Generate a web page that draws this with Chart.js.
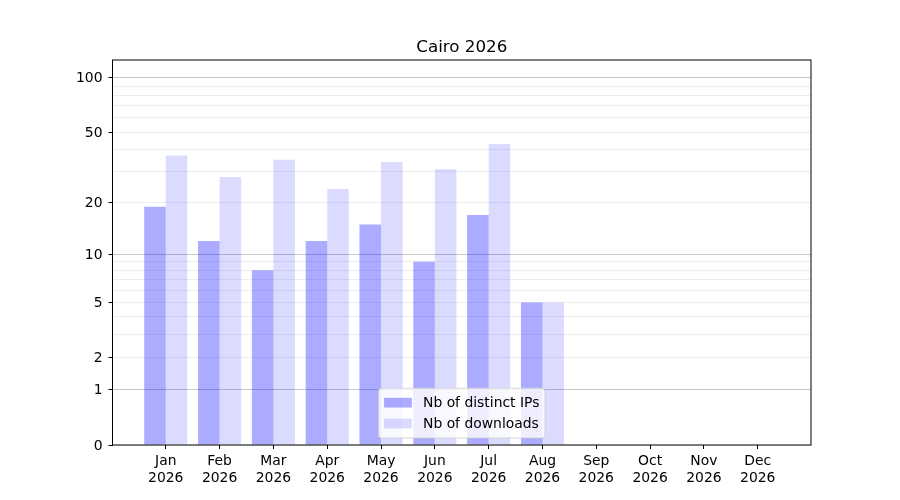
<!DOCTYPE html>
<html>
<head>
<meta charset="utf-8">
<script src="https://cdn.jsdelivr.net/npm/chart.js@4/dist/chart.umd.min.js"></script>
<style>
  html, body { margin: 0; padding: 0; background: #fff; }
  #wrap { width: 900px; height: 500px; }
</style>
</head>
<body>
<div id="wrap"><canvas id="chart"></canvas></div>
<script>
'use strict';

// data
const months = ['Jan', 'Feb', 'Mar', 'Apr', 'May', 'Jun', 'Jul', 'Aug', 'Sep', 'Oct', 'Nov', 'Dec'];
const year = '2026';
const distinctIPs = [19, 12, 8, 12, 15, 9, 17, 5, 0, 0, 0, 0];
const downloads = [37, 28, 35, 24, 34, 31, 43, 5, 0, 0, 0, 0];
const seriesNames = ['Nb of distinct IPs', 'Nb of downloads'];
const yTickValues = [0, 1, 2, 3, 4, 5, 6, 7, 8, 9, 10, 20, 30, 40, 50, 60, 70, 80, 90, 100];
const yTickLabels = [0, 1, 2, 5, 10, 20, 50, 100];
const yMajorGrid = [1, 10, 100];

const FONT = 'DejaVu Sans';

// y axis spaced like log10(1 + v)
class Log1pScale extends Chart.LinearScale {
  configure() {
    super.configure();
    this._lmin = Math.log10(1 + this.min);
    this._lrange = Math.log10(1 + this.max) - this._lmin;
  }
  buildTicks() {
    return yTickValues.map(v => ({ value: v }));
  }
  getPixelForValue(v) {
    return this.getPixelForDecimal((Math.log10(1 + v) - this._lmin) / this._lrange);
  }
  getValueForPixel(p) {
    return Math.pow(10, this._lmin + this.getDecimalForPixel(p) * this._lrange) - 1;
  }
}
Log1pScale.id = 'log1p';
Log1pScale.defaults = Chart.LinearScale.defaults;
Chart.register(Log1pScale);

// box round the plot + title centred over it
const framePlugin = {
  id: 'frame',
  afterDatasetsDraw(chart) {
    const a = chart.chartArea, ctx = chart.ctx;
    ctx.save();
    ctx.strokeStyle = '#000';
    ctx.lineWidth = 1;
    ctx.strokeRect(a.left, a.top, a.right - a.left, a.bottom - a.top);
    ctx.font = '16.7px "' + FONT + '"';
    ctx.fillStyle = '#000';
    ctx.textAlign = 'center';
    ctx.textBaseline = 'middle';
    ctx.fillText('Cairo ' + year, (a.left + a.right) / 2, a.top - 12);
    ctx.restore();
  }
};

// legend in the lower centre of the plot, matplotlib style
const legendPlugin = {
  id: 'innerLegend',
  afterDraw(chart) {
    const ctx = chart.ctx, a = chart.chartArea;
    const fs = 13.9;
    ctx.save();
    ctx.font = fs + 'px "' + FONT + '"';
    const sets = chart.data.datasets;
    let tw = 0;
    sets.forEach(d => { tw = Math.max(tw, ctx.measureText(d.label).width); });
    const pad = 0.4 * fs, hl = 2 * fs, hp = 0.8 * fs, rowH = fs * 1.0, gap = 0.5 * fs;
    const w = pad * 2 + hl + hp + tw;
    const h = pad * 2 + rowH * sets.length + gap * (sets.length - 1) + 4;
    const x = (a.left + a.right) / 2 - w / 2;
    const y = a.bottom - 0.5 * fs - h;
    ctx.beginPath();
    ctx.roundRect(x, y, w, h, 3);
    ctx.fillStyle = 'rgba(255,255,255,0.8)';
    ctx.fill();
    ctx.strokeStyle = 'rgba(204,204,204,0.8)';
    ctx.lineWidth = 1;
    ctx.stroke();
    sets.forEach((d, i) => {
      const cy = y + pad + 2 + rowH / 2 + i * (rowH + gap);
      ctx.fillStyle = d.backgroundColor;
      ctx.fillRect(x + pad, cy - 0.35 * fs, hl, 0.7 * fs);
      ctx.fillStyle = '#000';
      ctx.textBaseline = 'middle';
      ctx.textAlign = 'left';
      ctx.fillText(d.label, x + pad + hl + hp, cy + 1);
    });
    ctx.restore();
  }
};

function toPoints(values) {
  return values.map((v, i) => ({ x: i, y: v }));
}

new Chart(document.getElementById('chart'), {
  type: 'bar',
  data: {
    datasets: [
      {
        label: seriesNames[0],
        data: toPoints(distinctIPs),
        backgroundColor: 'rgba(0,0,255,0.33)',
        borderWidth: 0
      },
      {
        label: seriesNames[1],
        data: toPoints(downloads),
        backgroundColor: 'rgba(0,0,255,0.14)',
        borderWidth: 0
      }
    ]
  },
  options: {
    responsive: true,
    maintainAspectRatio: false,
    animation: false,
    devicePixelRatio: 1,
    categoryPercentage: 0.8,
    barPercentage: 1.0,
    layout: { padding: { left: 0, right: 89, top: 60, bottom: 0 } },
    plugins: {
      legend: { display: false },
      tooltip: { enabled: false },
      title: { display: false }
    },
    scales: {
      x: {
        type: 'linear',
        offset: false,
        min: -0.99,
        max: 11.99,
        afterBuildTicks(scale) {
          scale.ticks = months.map((m, i) => ({ value: i }));
        },
        afterFit(scale) { scale.height = 55; },
        grid: {
          offset: false,
          drawOnChartArea: false,
          drawTicks: true,
          tickLength: 4,
          tickColor: '#000'
        },
        border: { display: false },
        ticks: {
          autoSkip: false,
          maxRotation: 0,
          padding: 4,
          color: '#000',
          font: { family: FONT, size: 13.9 },
          callback: v => [months[v], year]
        }
      },
      y: {
        type: 'log1p',
        min: 0,
        max: 125.3,
        afterFit(scale) { scale.width = 112.5; },
        grid: {
          drawTicks: true,
          tickLength: 4,
          color: ctx => yMajorGrid.includes(ctx.tick.value) ? 'rgba(0,0,0,0.22)' : 'rgba(0,0,0,0.07)',
          tickColor: ctx => yTickLabels.includes(ctx.tick.value) ? '#000' : 'rgba(0,0,0,0)'
        },
        border: { display: false },
        ticks: {
          autoSkip: false,
          padding: 6,
          labelOffset: 1,
          color: '#000',
          font: { family: FONT, size: 13.9 },
          callback: v => yTickLabels.includes(v) ? String(v) : ''
        }
      }
    }
  },
  plugins: [framePlugin, legendPlugin]
});
</script>
</body>
</html>
